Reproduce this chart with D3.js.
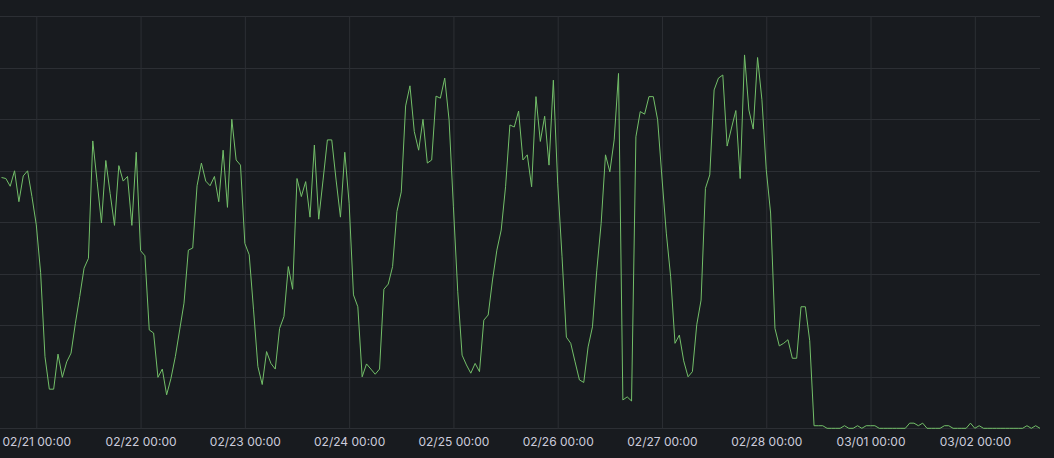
<!DOCTYPE html>
<meta charset="utf-8">
<body style="margin:0;background:#181b1f;">
<svg width="1054" height="458"></svg>
<script src="https://cdn.jsdelivr.net/npm/d3@7"></script>
<script>
    // hourly samples, first one at 02/20 16:00 (UTC)
    const startTime = "2025-02-20T16:00:00Z";
    const dayTicks = ["2025-02-21", "2025-02-22", "2025-02-23", "2025-02-24", "2025-02-25",
        "2025-02-26", "2025-02-27", "2025-02-28", "2025-03-01", "2025-03-02"];
    const yTicks = [0, 100, 200, 300, 400, 500, 600, 700, 800];

    const lead = [487, 485, 470, 500, 440, 490, 500, 450];
    const feb21 = [395, 302, 139, 76, 76, 144, 99, 129, 146, 204, 256, 311, 330, 558, 479, 399, 520, 456, 394, 510, 480, 489, 394, 536];
    const feb22 = [345, 335, 191, 185, 99, 115, 65, 97, 139, 191, 243, 346, 350, 471, 515, 480, 471, 489, 440, 540, 429, 600, 521, 511];
    const feb23 = [359, 337, 230, 120, 85, 149, 126, 115, 194, 217, 314, 270, 485, 450, 479, 410, 550, 406, 482, 560, 560, 482, 410, 536];
    const feb24 = [437, 259, 236, 100, 125, 115, 105, 115, 270, 280, 314, 421, 459, 626, 665, 576, 540, 600, 515, 521, 645, 641, 680, 599];
    const feb25 = [430, 265, 142, 123, 107, 126, 110, 210, 220, 288, 346, 385, 469, 589, 585, 616, 521, 531, 469, 644, 557, 606, 511, 676];
    const feb26 = [476, 333, 177, 165, 129, 94, 89, 158, 197, 307, 398, 531, 498, 560, 689, 55, 61, 53, 566, 615, 610, 644, 644, 599];
    const feb27 = [486, 379, 294, 165, 181, 131, 100, 110, 201, 249, 466, 492, 657, 680, 686, 548, 583, 617, 485, 725, 618, 581, 720, 638];
    const feb28 = [502, 418, 194, 160, 165, 172, 136, 136, 236, 236, 170, 5, 5, 5, 0, 0, 0, 0, 5, 0, 0, 5, 0, 5];
    const mar01 = [5, 5, 0, 0, 0, 0, 0, 0, 0, 10, 10, 5, 10, 0, 0, 0, 0, 5, 5, 0, 0, 0, 0, 10];
    const mar02 = [0, 5, 0, 0, 0, 0, 0, 0, 0, 0, 0, 0, 5, 0, 5, 0];

    const values = [].concat(lead, feb21, feb22, feb23, feb24, feb25, feb26, feb27, feb28, mar01, mar02);
    const hour = 3600 * 1000;
    const t0 = new Date(startTime).getTime();
    const data = values.map((v, i) => ({ t: new Date(t0 + i * hour), v: v }));

    let svg = d3.select("svg"),
        plotRight = 1040,
        plotTop = 16.3,
        plotBottom = 428.3;

    let x = d3.scaleUtc()
        .domain([new Date(t0 - 0.35 * hour), data[data.length - 1].t])
        .range([0, plotRight]);
    let y = d3.scaleLinear()
        .domain([0, 800])
        .range([plotBottom, plotTop]);

    // horizontal grid
    svg.append("g")
        .selectAll("line")
        .data(yTicks)
        .join("line")
        .attr("x1", 0)
        .attr("x2", plotRight)
        .attr("y1", d => Math.round(y(d)) + 0.5)
        .attr("y2", d => Math.round(y(d)) + 0.5)
        .attr("stroke", "#2c2f34");

    // x axis: day grid + labels
    let xAxis = d3.axisBottom(x)
        .tickValues(dayTicks.map(d => new Date(d + "T00:00:00Z")))
        .tickFormat(d3.utcFormat("%m/%d %H:%M"))
        .tickSize(plotBottom - plotTop)
        .tickPadding(9.5);
    let gx = svg.append("g")
        .attr("transform", `translate(0,${plotTop})`)
        .call(xAxis);
    gx.select(".domain").remove();
    gx.selectAll(".tick line")
        .attr("stroke", "#2c2f34");
    gx.selectAll(".tick text")
        .attr("fill", "#ccccdc")
        .attr("font-family", "Inter, 'Open Sans', sans-serif")
        .attr("font-size", 12);

    svg.append("clipPath").attr("id", "clip")
        .append("rect").attr("x", 0).attr("y", 0).attr("width", plotRight + 2).attr("height", plotBottom + 2);

    let line = d3.line()
        .x(d => x(d.t))
        .y(d => y(d.v));
    svg.append("path")
        .datum(data)
        .attr("clip-path", "url(#clip)")
        .attr("fill", "none")
        .attr("stroke", "#73bf69")
        .attr("stroke-width", 1)
        .attr("stroke-linejoin", "round")
        .attr("d", line);
</script>
</body>
